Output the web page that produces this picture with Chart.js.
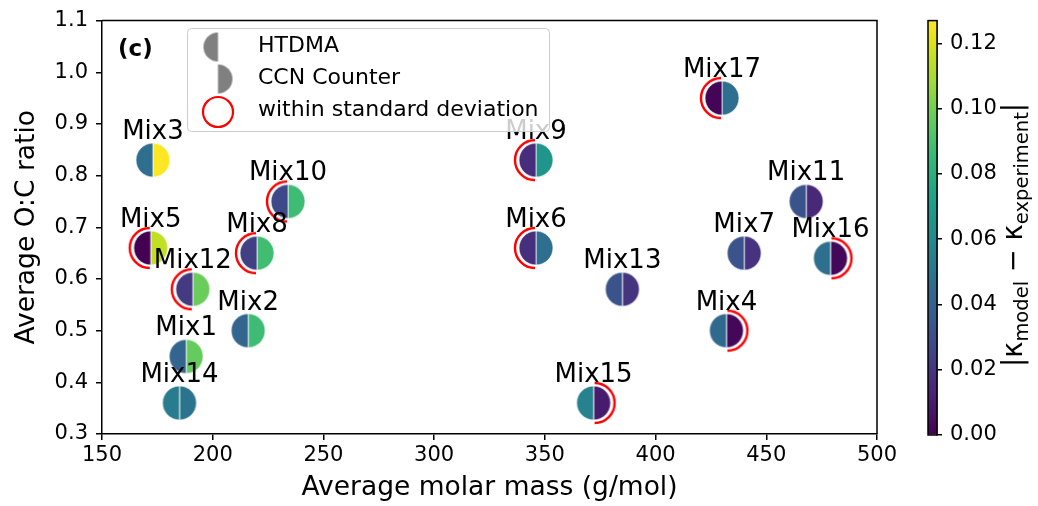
<!DOCTYPE html>
<html>
<head>
<meta charset="utf-8">
<script src="https://cdn.jsdelivr.net/npm/chart.js@4/dist/chart.umd.min.js"></script>
<style>
  html, body { margin: 0; padding: 0; background: #fff; }
  #wrap { position: relative; width: 1038px; height: 506px; }
  #wrap canvas { position: absolute; left: 0; top: 0; }
</style>
</head>
<body>
<div id="wrap">
  <canvas id="main" width="1038" height="506"></canvas>
  <canvas id="cbar" width="1038" height="506"></canvas>
</div>
<script>
// ---- data -------------------------------------------------------------
const mixtures   = ['Mix1','Mix2','Mix3','Mix4','Mix5','Mix6','Mix7','Mix8','Mix9',
                    'Mix10','Mix11','Mix12','Mix13','Mix14','Mix15','Mix16','Mix17'];
const molarMass  = [188, 216, 173, 432, 172, 346, 440, 220, 346,
                    234, 468, 191, 385, 185, 372, 479, 430];
const ocRatio    = [0.45, 0.50, 0.83, 0.50, 0.66, 0.66, 0.65, 0.65, 0.83,
                    0.75, 0.75, 0.58, 0.58, 0.36, 0.36, 0.64, 0.95];
// |kappa_model - kappa_experiment| for each instrument
const diffHTDMA  = [0.042, 0.042, 0.047, 0.045, 0.000, 0.018, 0.032, 0.024, 0.017,
                    0.027, 0.032, 0.022, 0.032, 0.053, 0.056, 0.047, 0.001];
const diffCCN    = [0.097, 0.087, 0.127, 0.002, 0.115, 0.047, 0.019, 0.088, 0.066,
                    0.087, 0.015, 0.098, 0.020, 0.049, 0.0095, 0.002, 0.047];
// model within the experimental standard deviation
const htdmaInStd = [false, false, false, false, true, true, false, true, true,
                    true, false, true, false, false, false, false, true];
const ccnInStd   = [false, false, false, true, false, false, false, false, false,
                    false, false, false, false, false, true, true, false];

const xTickValues    = [150, 200, 250, 300, 350, 400, 450, 500];
const yTickValues    = [0.3, 0.4, 0.5, 0.6, 0.7, 0.8, 0.9, 1.0, 1.1];
const colorTickValues = [0.00, 0.02, 0.04, 0.06, 0.08, 0.10, 0.12];
const colorMin = 0.0, colorMax = 0.127;

// ---- colours ------------------------------------------------------------
const FONT = "'DejaVu Sans', 'Liberation Sans', sans-serif";
Chart.defaults.font.family = FONT;
Chart.defaults.color = '#000';

const VIRIDIS = ['#440154','#471365','#482475','#46327e','#414487','#3b528b','#355f8d',
                 '#31688e','#2a788e','#25848e','#21918c','#1e9b8a','#22a884','#2fb47c',
                 '#44bf70','#5ec962','#7ad151','#9fda3a','#bddf26','#dfe318','#fde725'];
function hexRgb(h) { return [1, 3, 5].map(i => parseInt(h.slice(i, i + 2), 16)); }
function viridis(t) {
  t = Math.max(0, Math.min(1, t));
  const p = t * (VIRIDIS.length - 1), i = Math.min(Math.floor(p), VIRIDIS.length - 2), f = p - i;
  const a = hexRgb(VIRIDIS[i]), b = hexRgb(VIRIDIS[i + 1]);
  const c = a.map((v, k) => Math.round(v + (b[k] - v) * f));
  return `rgb(${c[0]},${c[1]},${c[2]})`;
}
const colorOf = v => viridis((v - colorMin) / (colorMax - colorMin));

// ---- marker sprites -------------------------------------------------------
const R = 17;
function halfDisc(color, side, r, edge) {
  const s = 2 * r + 4, c = document.createElement('canvas');
  c.width = s; c.height = s;
  const g = c.getContext('2d'), m = s / 2;
  g.beginPath();
  if (side === 'left') g.arc(m, m, r, Math.PI / 2, Math.PI * 1.5);
  else g.arc(m, m, r, -Math.PI / 2, Math.PI / 2);
  g.closePath();
  g.fillStyle = color; g.fill();
  if (edge) { g.lineWidth = 0.8; g.strokeStyle = 'rgba(255,255,255,0.85)'; g.stroke(); }
  return c;
}
function stdArc(side, r) {
  const s = 2 * r + 10, c = document.createElement('canvas');
  c.width = s; c.height = s;
  const g = c.getContext('2d'), m = s / 2;
  g.beginPath();
  if (side === 'left') g.arc(m - 1, m, r, Math.PI / 2, Math.PI * 1.5);
  else g.arc(m + 1, m, r, -Math.PI / 2, Math.PI / 2);
  g.strokeStyle = '#ff0000'; g.lineWidth = 2.4; g.stroke();
  return c;
}
const htdmaMarks = diffHTDMA.map(v => halfDisc(colorOf(v), 'left', R, true));
const ccnMarks   = diffCCN.map(v => halfDisc(colorOf(v), 'right', R, true));
const arcLeft  = stdArc('left', 20);
const arcRight = stdArc('right', 20);
const legendLeft  = halfDisc('#808080', 'left', 14.5, false);
const legendRight = halfDisc('#808080', 'right', 14.5, false);

const points = molarMass.map((x, i) => ({ x, y: ocRatio[i] }));

// ---- decorations: point names, legend, panel tag, frame ------------------
const mainDecor = {
  id: 'mainDecor',
  afterDatasetsDraw(chart) {
    const { ctx, chartArea: a } = chart;
    ctx.save();
    // names above the markers
    ctx.fillStyle = '#000';
    ctx.font = `26px ${FONT}`;
    ctx.textAlign = 'center';
    ctx.textBaseline = 'alphabetic';
    chart.getDatasetMeta(0).data.forEach((pt, i) => ctx.fillText(mixtures[i], pt.x, pt.y - 21));

    // frame (top and right spines)
    ctx.strokeStyle = '#000'; ctx.lineWidth = 1.5;
    ctx.beginPath();
    ctx.moveTo(a.left, a.top); ctx.lineTo(a.right, a.top); ctx.lineTo(a.right, a.bottom);
    ctx.stroke();

    // panel tag
    ctx.font = `bold 23px ${FONT}`;
    ctx.textAlign = 'left'; ctx.textBaseline = 'middle';
    ctx.fillText('(c)', 118, 50);

    // legend
    const lx = 187.5, ly = 28.5, lw = 362, lh = 103;
    ctx.beginPath();
    ctx.roundRect(lx, ly, lw, lh, 4);
    ctx.fillStyle = 'rgba(255,255,255,0.8)'; ctx.fill();
    ctx.strokeStyle = '#cccccc'; ctx.lineWidth = 1; ctx.stroke();
    const mx = 218;
    ctx.drawImage(legendLeft, mx - legendLeft.width / 2, 47 - legendLeft.height / 2);
    ctx.drawImage(legendRight, mx - legendRight.width / 2, 79 - legendRight.height / 2);
    ctx.beginPath(); ctx.arc(mx, 112, 15, 0, Math.PI * 2);
    ctx.strokeStyle = '#ff0000'; ctx.lineWidth = 2.2; ctx.stroke();
    ctx.fillStyle = '#000';
    ctx.font = `22px ${FONT}`;
    ctx.textBaseline = 'middle';
    ctx.fillText('HTDMA', 258, 46);
    ctx.fillText('CCN Counter', 258, 78);
    ctx.fillText('within standard deviation', 258, 110);
    ctx.restore();
  }
};

const axisStyle = {
  grid: { drawOnChartArea: false, drawTicks: true, tickLength: 6, color: '#000', lineWidth: 1.5 },
  border: { display: true, color: '#000', width: 1.5 }
};

new Chart(document.getElementById('main'), {
  type: 'scatter',
  data: {
    datasets: [
      { label: 'HTDMA', data: points, pointStyle: c => htdmaMarks[c.dataIndex], order: 1 },
      { label: 'CCN Counter', data: points, pointStyle: c => ccnMarks[c.dataIndex], order: 1 },
      { label: 'HTDMA within standard deviation',
        data: points.filter((p, i) => htdmaInStd[i]), pointStyle: arcLeft, order: 2 },
      { label: 'CCN within standard deviation',
        data: points.filter((p, i) => ccnInStd[i]), pointStyle: arcRight, order: 2 }
    ]
  },
  options: {
    responsive: false,
    animation: false,
    events: [],
    layout: { padding: { top: 18, right: 161, left: 0, bottom: 0 } },
    plugins: { legend: { display: false }, tooltip: { enabled: false } },
    scales: {
      x: {
        type: 'linear', min: 150, max: 500,
        afterBuildTicks: s => { s.ticks = xTickValues.map(v => ({ value: v })); },
        afterFit: s => { s.height = 72; },
        ticks: { font: { size: 21 }, color: '#000', padding: 3, maxRotation: 0,
                 callback: v => String(v) },
        title: { display: true, text: 'Average molar mass (g/mol)', font: { size: 26.5 },
                 color: '#000', padding: { top: 0, bottom: 2 } },
        ...axisStyle
      },
      y: {
        type: 'linear', min: 0.3, max: 1.1,
        afterBuildTicks: s => { s.ticks = yTickValues.map(v => ({ value: v })); },
        afterFit: s => { s.width = 102; },
        ticks: { font: { size: 21 }, color: '#000', padding: 8, callback: v => v.toFixed(1) },
        title: { display: true, text: 'Average O:C ratio', font: { size: 26.5 },
                 color: '#000', padding: { top: 11, bottom: 0 } },
        ...axisStyle
      }
    }
  },
  plugins: [mainDecor]
});

// ---- colour bar ------------------------------------------------------------
function barGradient(chart) {
  const a = chart.chartArea;
  if (!a) return VIRIDIS[10];
  const g = chart.ctx.createLinearGradient(0, a.bottom, 0, a.top);
  VIRIDIS.forEach((c, i) => g.addColorStop(i / (VIRIDIS.length - 1), c));
  return g;
}

const cbarDecor = {
  id: 'cbarDecor',
  afterDatasetsDraw(chart) {
    const { ctx, chartArea: a } = chart;
    ctx.save();
    ctx.strokeStyle = '#000'; ctx.lineWidth = 1.5;
    ctx.strokeRect(a.left, a.top, a.right - a.left, a.bottom - a.top);

    // |κ_model − κ_experiment|
    const big = `27.5px ${FONT}`, small = `19.5px ${FONT}`;
    const parts = [
      ['|', big, 0], ['κ', big, 0], ['model', small, 6], [' − ', big, 0],
      ['κ', big, 0], ['experiment', small, 6], ['|', big, 0]
    ];
    let total = 0;
    parts.forEach(p => { ctx.font = p[1]; total += ctx.measureText(p[0]).width; });
    ctx.translate(1022, 235);
    ctx.rotate(-Math.PI / 2);
    ctx.fillStyle = '#000';
    ctx.textAlign = 'left'; ctx.textBaseline = 'alphabetic';
    let x = -total / 2;
    parts.forEach(p => {
      ctx.font = p[1];
      ctx.fillText(p[0], x, p[2]);
      x += ctx.measureText(p[0]).width;
    });
    ctx.restore();
  }
};

new Chart(document.getElementById('cbar'), {
  type: 'bar',
  data: {
    labels: [''],
    datasets: [{ data: [colorMax], backgroundColor: c => barGradient(c.chart),
                 barPercentage: 1, categoryPercentage: 1, borderWidth: 0 }]
  },
  options: {
    responsive: false,
    animation: false,
    events: [],
    layout: { padding: { left: 928, top: 20, bottom: 71, right: 0 } },
    plugins: { legend: { display: false }, tooltip: { enabled: false } },
    scales: {
      x: { display: false },
      y: {
        position: 'right', min: colorMin, max: colorMax,
        afterBuildTicks: s => { s.ticks = colorTickValues.map(v => ({ value: v })); },
        afterFit: s => { s.width = 101; },
        ticks: { font: { size: 21 }, color: '#000', padding: 8, callback: v => v.toFixed(2) },
        grid: { drawOnChartArea: false, drawTicks: true, tickLength: 5, color: '#000', lineWidth: 1.5 },
        border: { display: true, color: '#000', width: 1.5 }
      }
    }
  },
  plugins: [cbarDecor]
});
</script>
</body>
</html>
